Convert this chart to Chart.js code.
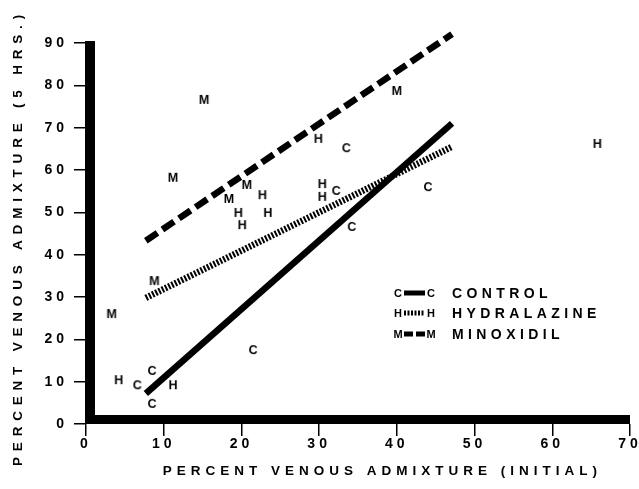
<!DOCTYPE html>
<html>
<head>
<meta charset="utf-8">
<script src="https://cdn.jsdelivr.net/npm/chart.js@4/dist/chart.umd.min.js"></script>
<style>
  html, body { margin: 0; background: #fff; }
  #wrap { width: 639px; height: 489px; position: relative; }
</style>
</head>
<body>
<div id="wrap"><canvas id="chart"></canvas></div>
<script>
// ── Values ───────────────────────────────────────────────
const controlX     = [33.5, 32.2, 34.2, 44.0, 21.5, 8.5, 6.6, 8.5];
const controlY     = [65.4, 55.3, 46.8, 56.2, 17.7, 12.8, 9.4, 5.0];
const hydralazineX = [22.7, 19.6, 23.4, 20.1, 29.9, 30.4, 30.4, 65.8, 4.2, 11.2];
const hydralazineY = [54.3, 50.1, 50.1, 47.2, 67.6, 56.9, 53.9, 66.4, 10.6, 9.4];
const minoxidilX   = [15.2, 40.0, 11.2, 20.7, 18.4, 8.8, 3.3];
const minoxidilY   = [76.8, 78.9, 58.4, 56.7, 53.4, 34.0, 26.2];

// regression lines (two end points each)
const fitX           = [7.7, 47.1];
const controlFit     = [7.2, 71.0];
const hydralazineFit = [29.8, 65.5];
const minoxidilFit   = [43.3, 92.1];

const xTitle = 'PERCENT VENOUS ADMIXTURE (INITIAL)';
const yTitle = 'PERCENT VENOUS ADMIXTURE (5 HRS.)';
const groups = [
  { key: 'C', label: 'CONTROL' },
  { key: 'H', label: 'HYDRALAZINE' },
  { key: 'M', label: 'MINOXIDIL' }
];

const FONT = '"Liberation Sans", Arial, Helvetica, sans-serif';
const INK = '#000';

// ── Letter markers (C / H / M) ───────────────────────────
function letter(ch, size) {
  const c = document.createElement('canvas');
  c.width = 16; c.height = 16;
  const g = c.getContext('2d');
  g.fillStyle = INK;
  g.font = `bold ${size}px ${FONT}`;
  g.textAlign = 'center';
  g.textBaseline = 'alphabetic';
  g.fillText(ch, 8, 8 + size * 0.36);
  return c;
}

const pts = (xs, ys) => xs.map((x, i) => ({ x, y: ys[i] }));

// ── Plugins: heavy axis bars, spaced text, legend ────────
const axisBars = {
  id: 'axisBars',
  beforeDraw(chart) { chart.ctx.letterSpacing = '4px'; },
  beforeDatasetsDraw(chart) {
    const { ctx, chartArea: a } = chart;
    ctx.save();
    ctx.fillStyle = INK;
    ctx.fillRect(a.left - 1, a.top - 2, 10, a.bottom - a.top + 2);
    ctx.fillRect(a.left - 1, a.bottom - 9, a.right - a.left + 1, 9);
    ctx.restore();
  }
};

const titles = {
  id: 'titles',
  afterDraw(chart) {
    const { ctx, chartArea: a } = chart;
    ctx.save();
    ctx.fillStyle = INK;
    ctx.font = `bold 13.5px ${FONT}`;
    ctx.textAlign = 'center';
    ctx.textBaseline = 'middle';
    ctx.letterSpacing = '5px';
    ctx.fillText(xTitle, a.left + (a.right - a.left) * 0.545, 471);
    ctx.translate(18, (a.top + a.bottom) / 2 + 4);
    ctx.rotate(-Math.PI / 2);
    ctx.letterSpacing = '5.8px';
    ctx.fillText(yTitle, 0, 0);
    ctx.restore();
  }
};

const letterLegend = {
  id: 'letterLegend',
  afterDraw(chart) {
    const { ctx, chartArea: a } = chart;
    const rows = [a.top + 250, a.top + 270, a.top + 291];
    const x0 = a.left + 312;
    ctx.save();
    ctx.letterSpacing = '0px';
    groups.forEach((g, i) => {
      const ds = chart.data.datasets[3 + i];
      const y = rows[i];
      const mk = letter(g.key, 11);
      ctx.drawImage(mk, x0 - 8, y - 8);
      ctx.drawImage(mk, x0 + 33 - 8, y - 8);
      ctx.strokeStyle = INK;
      ctx.lineWidth = 5;
      ctx.setLineDash(ds.borderDash.length ? (i === 2 ? [9, 3] : [2, 1.5]) : []);
      ctx.beginPath();
      ctx.moveTo(x0 + 6, y);
      ctx.lineTo(x0 + 27, y);
      ctx.stroke();
      ctx.setLineDash([]);
      ctx.fillStyle = INK;
      ctx.font = `bold 14px ${FONT}`;
      ctx.textAlign = 'left';
      ctx.textBaseline = 'middle';
      ctx.letterSpacing = '4.4px';
      ctx.fillText(g.label, x0 + 54, y + 1);
    });
    ctx.restore();
  }
};

// ── Chart ────────────────────────────────────────────────
const markerSet = (label, xs, ys, ch) => ({
  label, data: pts(xs, ys), showLine: false,
  pointStyle: letter(ch, 12.5), pointRadius: 6, pointHoverRadius: 6
});
const fitLine = (label, ys, dash) => ({
  label, data: pts(fitX, ys), showLine: true, pointRadius: 0, clip: false,
  borderColor: INK, borderWidth: 6.5, borderDash: dash, borderCapStyle: 'butt'
});

new Chart(document.getElementById('chart'), {
  type: 'scatter',
  data: {
    datasets: [
      markerSet('C', controlX, controlY, 'C'),
      markerSet('H', hydralazineX, hydralazineY, 'H'),
      markerSet('M', minoxidilX, minoxidilY, 'M'),
      fitLine('CONTROL', controlFit, []),
      fitLine('HYDRALAZINE', hydralazineFit, [2, 1.6]),
      fitLine('MINOXIDIL', minoxidilFit, [14, 6])
    ]
  },
  options: {
    responsive: true, maintainAspectRatio: false, animation: false,
    layout: { padding: { top: 43, right: 9, bottom: 0, left: 0 } },
    plugins: { legend: { display: false }, tooltip: { enabled: false } },
    scales: {
      x: {
        type: 'linear', min: 0, max: 70,
        afterFit: s => { s.height = 65; },
        border: { display: false },
        grid: { drawOnChartArea: false, drawTicks: true, tickLength: 12, lineWidth: 1.5, color: INK },
        ticks: { stepSize: 10, color: INK, padding: 0, font: { family: FONT, size: 14, weight: 'bold' } }
      },
      y: {
        type: 'linear', min: 0, max: 90,
        afterFit: s => { s.width = 86; },
        border: { display: false },
        grid: { drawOnChartArea: false, drawTicks: true, tickLength: 12, lineWidth: 1.5, color: INK },
        ticks: { stepSize: 10, color: INK, padding: 6, font: { family: FONT, size: 14, weight: 'bold' } }
      }
    }
  },
  plugins: [axisBars, letterLegend, titles]
});
</script>
</body>
</html>
